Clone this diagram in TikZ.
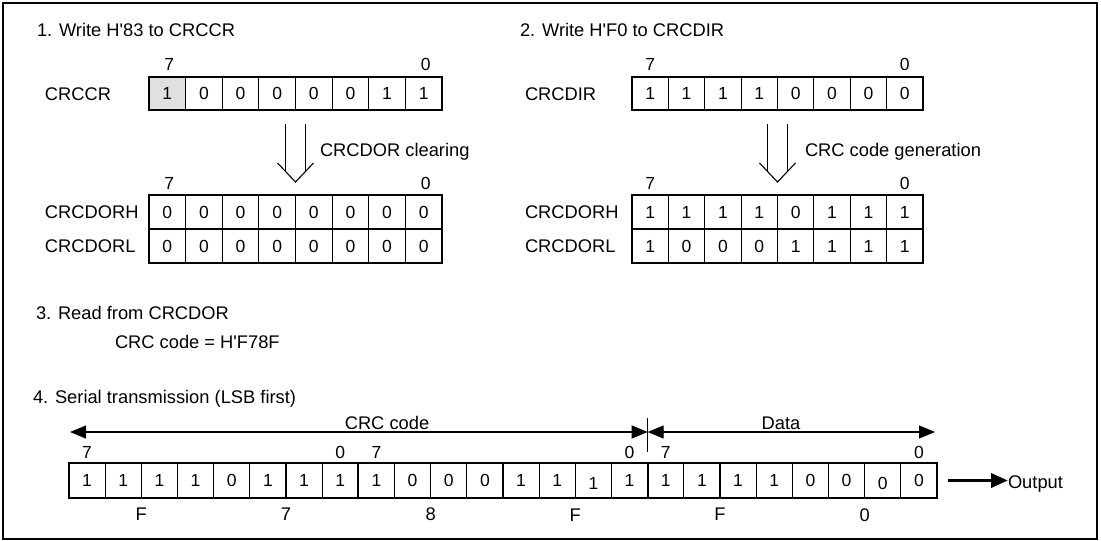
\documentclass[tikz,border=0pt]{standalone}
\usepackage{fontspec}
\setmainfont{Liberation Sans}[Ligatures=TeXOff]
\usetikzlibrary{calc,arrows.meta,backgrounds}
\newcommand{\regrow}[6]{%
  \node[reg, minimum width=#4pt, minimum height=#5pt] (#1) at (#2,#3) {};
  \pgfmathsetmacro{\cw}{#4/8}
  \foreach \b/\dy [count=\i from 0] in {#6} {
    \ifnum\i>0
      \draw[cellline] ($(#1.north west)+(\i*\cw,0)$) -- ($(#1.south west)+(\i*\cw,0)$);
    \fi
    \node[digit] (#1-\i) at ($(#1.west)+({(\i+0.5)*\cw},\dy)$) {\b};
  }%
}
\newcommand{\hollowdown}[2]{%
  \coordinate (#1-hdtop) at ($(#1.south)+(0,14)$);
  \coordinate (#1-hdtip) at ($(#2.north)+(0,-13)$);
  \draw[cellline, line join=miter] ($(#1-hdtip)+(-18,-19)$) -- (#1-hdtip) -- ($(#1-hdtip)+(18,-19)$);
  \draw[cellline] ($(#1-hdtop)+(-10,0)$) -- ($(#1-hdtip)+(-10,-10.6)$);
  \draw[cellline] ($(#1-hdtop)+(10,0)$) -- ($(#1-hdtip)+(10,-10.6)$);
}
\begin{document}
\begin{tikzpicture}[x=1pt,y=-1pt,
  txt/.style={inner sep=0pt, outer sep=0pt, font=\fontsize{18.3}{22}\selectfont},
  digit/.style={inner sep=0pt, outer sep=0pt, font=\fontsize{17.5}{21}\selectfont},
  reg/.style={draw, line width=2.2pt, inner sep=0pt, outer sep=0pt},
  cellline/.style={line width=1.1pt},
  dimline/.style={line width=1.1pt, {Triangle[length=16pt,width=13pt]}-{Triangle[length=16pt,width=13pt]}},
  outarrow/.style={line width=3.5pt, -{Triangle[length=17pt,width=14pt]}},
  shade/.style={fill=black!12}
]
\useasboundingbox (0,0) rectangle (1101,541);
\draw[line width=2pt] (3,3) rectangle (1097,539);

% ---------- 1. ----------
\node[txt, anchor=base west] (t1) at (37,36.5) {1. Write H'83 to CRCCR};
\regrow{ccr}{295.5}{93.5}{293}{33}{1/0,0/0,0/0,0/0,0/0,0/0,1/0,1/0}
\begin{scope}[on background layer]
  \fill[shade] (ccr.north west) rectangle ($(ccr.south west)+(36.6,0)$);
\end{scope}
\node[txt, anchor=base west] (lccr) at (45,100.5) {CRCCR};
\node[digit] (ccr7) at ($(ccr-0)+(2,-29.5)$) {7};
\node[digit] (ccr0) at ($(ccr-7)+(2,-29.5)$) {0};

\regrow{dorh}{295.5}{212}{293}{34}{0/0,0/0,0/0,0/0,0/0,0/0,0/0,0/0}
\regrow{dorl}{295.5}{246}{293}{34}{0/0,0/0,0/0,0/0,0/0,0/0,0/0,0/0}
\node[txt, anchor=base west] (ldorh) at (45,218.5) {CRCDORH};
\node[txt, anchor=base west] (ldorl) at (45,252.5) {CRCDORL};
\node[digit] (dorh7) at ($(dorh-0)+(2,-29)$) {7};
\node[digit] (dorh0) at ($(dorh-7)+(2,-29)$) {0};
\hollowdown{ccr}{dorh}
\node[txt, anchor=base west] (clr) at (320,156.5) {CRCDOR clearing};

% ---------- 2. ----------
\node[txt, anchor=base west] (t2) at (520,36.5) {2. Write H'F0 to CRCDIR};
\regrow{dir}{777.5}{93.5}{291}{33}{1/0,1/0,1/0,1/0,0/0,0/0,0/0,0/0}
\node[txt, anchor=base west] (ldir) at (525,100.5) {CRCDIR};
\node[digit] (dir7) at ($(dir-0)+(0,-29.5)$) {7};
\node[digit] (dir0) at ($(dir-7)+(0,-29.5)$) {0};

\regrow{rdorh}{777.5}{212}{291}{34}{1/0,1/0,1/0,1/0,0/0,1/0,1/0,1/0}
\regrow{rdorl}{777.5}{246}{291}{34}{1/0,0/0,0/0,0/0,1/0,1/0,1/0,1/0}
\node[txt, anchor=base west] (lrdorh) at (525,218.5) {CRCDORH};
\node[txt, anchor=base west] (lrdorl) at (525,252.5) {CRCDORL};
\node[digit] (rdorh7) at ($(rdorh-0)+(0,-29)$) {7};
\node[digit] (rdorh0) at ($(rdorh-7)+(0,-29)$) {0};
\hollowdown{dir}{rdorh}
\node[txt, anchor=base west] (gen) at (805,156.5) {CRC code generation};

% ---------- 3. ----------
\node[txt, anchor=base west] (t3) at (36,319.5) {3. Read from CRCDOR};
\node[txt, anchor=base west] (t3b) at (115,348.5) {CRC code = H'F78F};

% ---------- 4. ----------
\node[txt, anchor=base west] (t4) at (33,403.5) {4. Serial transmission (LSB first)};
\regrow{b1}{213.67}{480.5}{289.33}{35}{1/0,1/0,1/0,1/0,0/0,1/0,1/0,1/0}
\regrow{b2}{503}{480.5}{289.33}{35}{1/0,0/0,0/0,0/0,1/0,1/0,1/3,1/0}
\regrow{b3}{792.33}{480.5}{289.33}{35}{1/0,1/0,1/0,1/0,0/0,0/0,0/3,0/0}

\node[digit] (b17) at ($(b1-0)+(0,-28.5)$) {7};
\node[digit] (b10) at ($(b1-7)+(0,-28.5)$) {0};
\node[digit] (b27) at ($(b2-0)+(0,-28.5)$) {7};
\node[digit] (b20) at ($(b2-7)+(0,-28.5)$) {0};
\node[digit] (b37) at ($(b3-0)+(0,-28.5)$) {7};
\node[digit] (b30) at ($(b3-7)+(0,-28.5)$) {0};

\node[txt] (h1) at ($($(b1-1)!0.5!(b1-2)$)+(0,33.5)$) {F};
\node[txt] (h2) at ($($(b1-5)!0.5!(b1-6)$)+(0,33.5)$) {7};
\node[txt] (h3) at ($($(b2-1)!0.5!(b2-2)$)+(0,33.5)$) {8};
\node[txt] (h4) at ($($(b2-5)!0.5!(b2-6)$)+(0,33.5)$) {F};
\node[txt] (h5) at ($($(b3-1)!0.5!(b3-2)$)+(0,33.5)$) {F};
\node[txt] (h6) at ($($(b3-5)!0.5!(b3-6)$)+(0,33.5)$) {0};

\coordinate (mid) at ($(b2.north east)+(0,-31)$);
\coordinate (lend) at ($(b1.north west)+(1,-31)$);
\coordinate (rend) at ($(b3.north east)+(-2,-31)$);
\draw[dimline] (lend) -- (mid);
\draw[dimline] (mid) -- (rend);
\draw[cellline] ($(mid)+(0,-14)$) -- ($(mid)+(0,20)$);
\node[txt, anchor=base] (crc) at (387,429.5) {CRC code};
\node[txt, anchor=base] (data) at (781,429.5) {Data};

\node[txt, anchor=base west] (out) at (1008,488.5) {Output};
\coordinate (o1) at ($(b3.east)+(11,0)$);
\draw[outarrow] (o1) -- (o1 -| out.west);
\end{tikzpicture}
\end{document}
